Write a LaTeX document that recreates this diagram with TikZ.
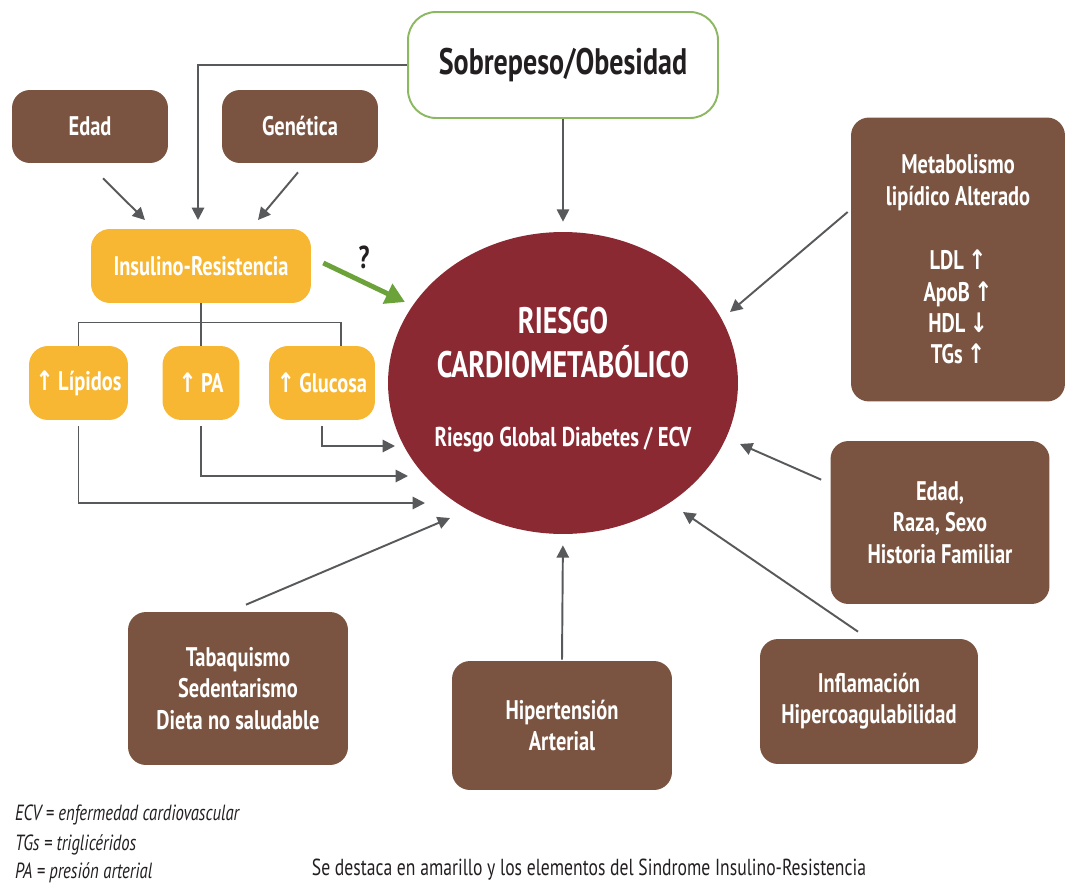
\documentclass[tikz,border=0pt]{standalone}
\usepackage{fontspec}
\setmainfont{PT Sans}[FakeStretch=0.76]
\newfontfamily\arrowfont{DejaVu Sans}[FakeStretch=0.8]
\usetikzlibrary{arrows.meta,calc,shapes.geometric}
\definecolor{brownbox}{RGB}{122,84,64}
\definecolor{yellowbox}{RGB}{247,183,51}
\definecolor{redball}{RGB}{139,41,51}
\definecolor{greenarrow}{RGB}{107,162,58}
\definecolor{greenline}{RGB}{141,184,98}
\definecolor{greyline}{RGB}{88,89,91}
\definecolor{darktext}{RGB}{35,31,32}
\newcommand{\uparr}{{\arrowfont ↑}}
\newcommand{\downarr}{{\arrowfont ↓}}
\newcommand{\boxfont}{\bfseries\fontsize{15.3}{17.8}\selectfont}

\begin{document}
\begin{tikzpicture}[x=0.02cm,y=-0.02cm]
\useasboundingbox (0,0) rectangle (1065,886);
\tikzstyle{bbox} = [rounded corners=0.36cm, fill=brownbox, text=white, align=center, inner sep=2pt, font=\boxfont]
\tikzstyle{ybox} = [rounded corners=0.38cm, fill=yellowbox, text=white, align=center, inner sep=2pt, minimum height=1.48cm, font=\boxfont]
\tikzstyle{conn} = [draw=greyline, line width=1.1pt, -{Triangle[length=7pt,width=7pt]}]
\tikzstyle{branch} = [draw=greyline, line width=0.9pt]
\node[draw=greenline, line width=1.1pt, fill=white, rounded corners=0.56cm, minimum width=6.2cm, minimum height=2.12cm, text=darktext, font=\bfseries\fontsize{21}{24}\selectfont] (sobre) at (563,65) {Sobrepeso/Obesidad};
\node[bbox, minimum width=3.12cm, minimum height=1.46cm] (edad) at (90,126.5) {Edad};
\node[bbox, minimum width=3.12cm, minimum height=1.46cm] (gen) at (300,126.5) {Genética};
\node[ybox, minimum width=4.4cm] (ir) at (201,266) {Insulino-Resistencia};
\node[ybox, minimum width=1.98cm] (lip) at (78.5,383) {\uparr\,Lípidos};
\node[ybox, minimum width=1.54cm] (pa) at (201,383) {\uparr\,PA};
\node[ybox, minimum width=2.12cm] (glu) at (322,383) {\uparr\,Glucosa};
\node[ellipse, fill=redball, minimum width=7cm, minimum height=6.04cm] (riesgo) at (563,383) {};
\node[text=white, font=\bfseries\fontsize{21}{24}\selectfont] (r1) at (563,321) {RIESGO};
\node[text=white, font=\bfseries\fontsize{21}{24}\selectfont] (r2) at (563,362) {CARDIOMETABÓLICO};
\node[text=white, font=\bfseries\fontsize{15.5}{18}\selectfont] (r3) at (563,440) {Riesgo Global Diabetes / ECV};
\node[bbox, minimum width=4.28cm, minimum height=5.68cm] (meta) at (958,259.5) {Metabolismo\\lipídico Alterado\\[19pt] LDL\,\uparr\\ApoB\,\uparr\\HDL\,\downarr\\TGs\,\uparr};
\node[bbox, minimum width=4.38cm, minimum height=3.26cm] (edad2) at (940,522.5) {Edad,\\Raza, Sexo\\Historia Familiar};
\node[bbox, minimum width=4.36cm, minimum height=2.5cm] (infl) at (869,701.5) {Inflamación\\Hipercoagulabilidad};
\node[bbox, minimum width=4.4cm, minimum height=2.58cm] (hip) at (562,725.5) {Hipertensión\\Arterial};
\node[bbox, minimum width=4.4cm, minimum height=3.06cm] (tab) at (238,688.5) {Tabaquismo\\Sedentarismo\\Dieta no saludable};
\node[text=darktext, font=\bfseries\fontsize{18}{20}\selectfont] (q) at (364,257) {?};
\coordinate (t1) at (425,503);
\coordinate (t2) at (408,476);
\coordinate (t3) at (395,446);
\coordinate (t4) at (450,518);
\coordinate (t5) at (683,512);
\coordinate (t6) at (740,444);
\coordinate (t7) at (730,312);
\coordinate (t8) at (405,302);
\coordinate (t9) at (145,220);
\coordinate (t10) at (258,220);
\coordinate (t11) at (198,220);
\draw[conn] (sobre.west) -| (t11);
\draw[conn] ($(edad.south)+(13,15)$) -- (t9);
\draw[conn] ($(gen.south)+(-2,9)$) -- (t10);
\draw[conn, shorten >=0.2cm] (sobre.south) -- (riesgo.north);
\draw[greenarrow, line width=2.8pt, -{Triangle[length=11pt,width=12pt]}] ($(ir.east)+(12,-3)$) -- (t8);
\draw[branch] (ir.south) -- (pa.north);
\draw[branch] (lip.north) -- ++(0,-23) -| ($(glu.north)+(19,0)$);
\draw[conn, shorten <=0.12cm] (lip.south) |- (t1);
\draw[conn, shorten <=0.12cm] (pa.south) |- (t2);
\draw[conn, shorten <=0.12cm] (glu.south) |- (t3);
\draw[conn] ($(tab.north)+(8,-7)$) -- (t4);
\draw[conn, shorten <=0.02cm, shorten >=0.22cm] (hip.north) -- (riesgo.south);
\draw[conn] ($(infl.north)+(-11,-7)$) -- (t5);
\draw[conn] ($(edad2.north west)+(-9,39)$) -- (t6);
\draw[conn] ($(meta.west)+(-3,-47.5)$) -- (t7);
\node[anchor=west, text=darktext, font=\itshape\fontsize{12.5}{14}\selectfont] (n1) at (9,815) {ECV = enfermedad cardiovascular};
\node[anchor=west, text=darktext, font=\itshape\fontsize{12.5}{14}\selectfont] (n2) at (9,845) {TGs = triglicéridos};
\node[anchor=west, text=darktext, font=\itshape\fontsize{12.5}{14}\selectfont] (n3) at (9,873) {PA = presión arterial};
\node[text=darktext, font=\fontsize{13.2}{15}\selectfont] (foot) at (589,870) {Se destaca en amarillo y los elementos del Sindrome Insulino-Resistencia};
\end{tikzpicture}
\end{document}
